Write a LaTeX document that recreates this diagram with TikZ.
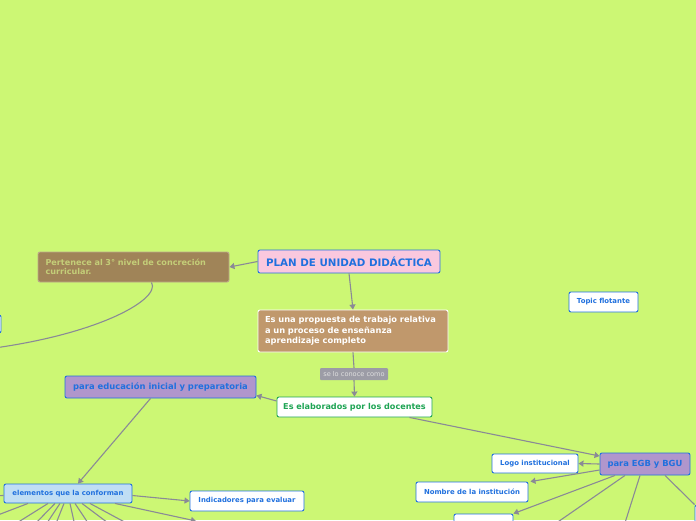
\documentclass[tikz,border=0pt]{standalone}
\usepackage{fontspec}
\setmainfont{DejaVu Sans}
\usetikzlibrary{arrows.meta}
\definecolor{fondo}{RGB}{204,247,116}
\definecolor{azul}{RGB}{32,112,222}
\definecolor{rosa}{RGB}{250,200,222}
\definecolor{cafe}{RGB}{160,132,88}
\definecolor{canela}{RGB}{192,152,108}
\definecolor{morado}{RGB}{176,150,204}
\definecolor{celeste}{RGB}{192,222,244}
\definecolor{verde}{RGB}{30,164,84}
\definecolor{linea}{RGB}{138,138,150}
\tikzset{
  topic/.style={draw=azul,fill=white,rounded corners=2pt,line width=0.9pt,
    inner sep=0pt,text=azul,font=\fontsize{6.9}{8}\selectfont\bfseries},
  rel/.style={draw=linea,line width=1.1pt},
  flecha/.style={rel,-{Triangle[length=5pt,width=6pt]}}
}
\begin{document}
\begin{tikzpicture}[x=1pt,y=-1pt]
  \fill[fondo] (0,0) rectangle (696,520);
  \useasboundingbox (0,0) rectangle (696,520);
  \clip (0,0) rectangle (696,520);
  % nodos
  \node[topic,fill=rosa,minimum width=182,minimum height=23,
    font=\fontsize{10.3}{12}\selectfont\bfseries] (plan) at (349,261.5) {PLAN DE UNIDAD DIDÁCTICA};
  \node[topic,draw=cafe!70!white,fill=cafe,minimum width=191,minimum height=30,
    text width=176,align=left,text={rgb,255:red,196;green,206;blue,120},
    font=\fontsize{8.1}{9.6}\selectfont\bfseries] (nivel) at (133.5,267) {Pertenece al 3° nivel de concreción\\curricular.};
  \node[topic,draw=white,fill=canela,minimum width=190,minimum height=42,
    text width=176,align=left,text=white,
    font=\fontsize{8.3}{10.5}\selectfont\bfseries] (propuesta) at (353,331) {Es una propuesta de trabajo relativa\\a un proceso de enseñanza\\aprendizaje completo};
  \node[fill=linea!85!white,rounded corners=1pt,minimum width=68,minimum height=12,
    inner sep=0pt,text=white!88!black,font=\fontsize{6.6}{7}\selectfont] (conoce) at (354,374) {se lo conoce como};
  \node[topic,draw=verde,text=verde,minimum width=155,minimum height=20,
    font=\fontsize{8.1}{9}\selectfont\bfseries] (docentes) at (354.5,407) {Es elaborados por los docentes};
  \node[topic,fill=morado,minimum width=191,minimum height=22,
    font=\fontsize{8.4}{9}\selectfont\bfseries] (inicial) at (160.5,387) {para educación inicial y preparatoria};
  \node[topic,fill=celeste,minimum width=128,minimum height=19] (elementos) at (68,493.5) {elementos que la conforman};
  \node[topic,minimum width=114,minimum height=20] (indicadores) at (247,501) {Indicadores para evaluar};
  \node[topic,minimum width=69,minimum height=20] (flotante) at (603.5,302) {Topic flotante};
  \node[topic,fill=morado,minimum width=90,minimum height=22,
    font=\fontsize{8.4}{9}\selectfont\bfseries] (egb) at (645,464) {para EGB y BGU};
  \node[topic,minimum width=86,minimum height=19] (logo) at (535,463.5) {Logo institucional};
  \node[topic,minimum width=112,minimum height=20] (nombre) at (472,492) {Nombre de la institución};
  \node[topic,minimum width=59,minimum height=20] (oculto) at (483.5,524) {};
  \node[topic,minimum width=102,minimum height=18] (izq) at (-50,324) {};
  \node[topic,minimum width=110,minimum height=20] (der) at (750,515) {};
  % extremos fuera del cuadro
  \coordinate (curva) at (-40,352);
  \coordinate (entra) at (-20,496);
  \coordinate (abajo) at (196,521);
  \coordinate (e1) at (-10,518);
  \coordinate (e2) at (12,526);
  \coordinate (e3) at (33,526);
  \coordinate (e4) at (45,526);
  \coordinate (e5) at (55,526);
  \coordinate (e6) at (75,526);
  \coordinate (e7) at (90,526);
  \coordinate (e8) at (112,526);
  \coordinate (e9) at (132,526);
  \coordinate (g1) at (552,526);
  \coordinate (g2) at (624,526);
  % conectores
  \draw[flecha] (plan.west) -- (nivel.east);
  \draw[flecha] (plan.south) -- (propuesta.north);
  \draw[rel] ([xshift=18pt]nivel.south) .. controls (162,300) and (90,340) .. (curva);
  \draw[rel] (propuesta.south) -- (conoce.north);
  \draw[flecha] (conoce.south) -- (docentes.north);
  \draw[flecha] ([yshift=6pt]docentes.west) -- ([yshift=3pt]inicial.south east);
  \draw[flecha] ([xshift=55pt]docentes.south) -- ([yshift=8pt]egb.west);
  \draw[flecha] ([xshift=-10pt]inicial.south) -- ([xshift=10pt]elementos.north);
  \draw[rel] (entra) -- ([yshift=-2pt]elementos.west);
  \draw[flecha] ([yshift=-2pt]elementos.east) -- (indicadores.west);
  \draw[flecha] ([xshift=47pt]elementos.south) -- (abajo);
  \foreach \x/\e in {-40/e1,-20/e2,-13/e3,-8/e4,-4/e5,2/e6,7/e7,14/e8,22/e9}
    \draw[rel] ([xshift=\x pt]elementos.south) -- (\e);
  \draw[flecha] (egb.west) -- (logo.east);
  \draw[flecha] ([yshift=-6pt]egb.west) -- ([xshift=2pt]nombre.north east);
  \draw[flecha] ([xshift=-30pt]egb.south) -- (oculto.north east);
  \draw[rel] ([xshift=-20pt]egb.south) -- (g1);
  \draw[rel] ([xshift=-5pt]egb.south) -- (g2);
  \draw[rel] ([xshift=20pt]egb.south) -- (der.north west);
\end{tikzpicture}
\end{document}
